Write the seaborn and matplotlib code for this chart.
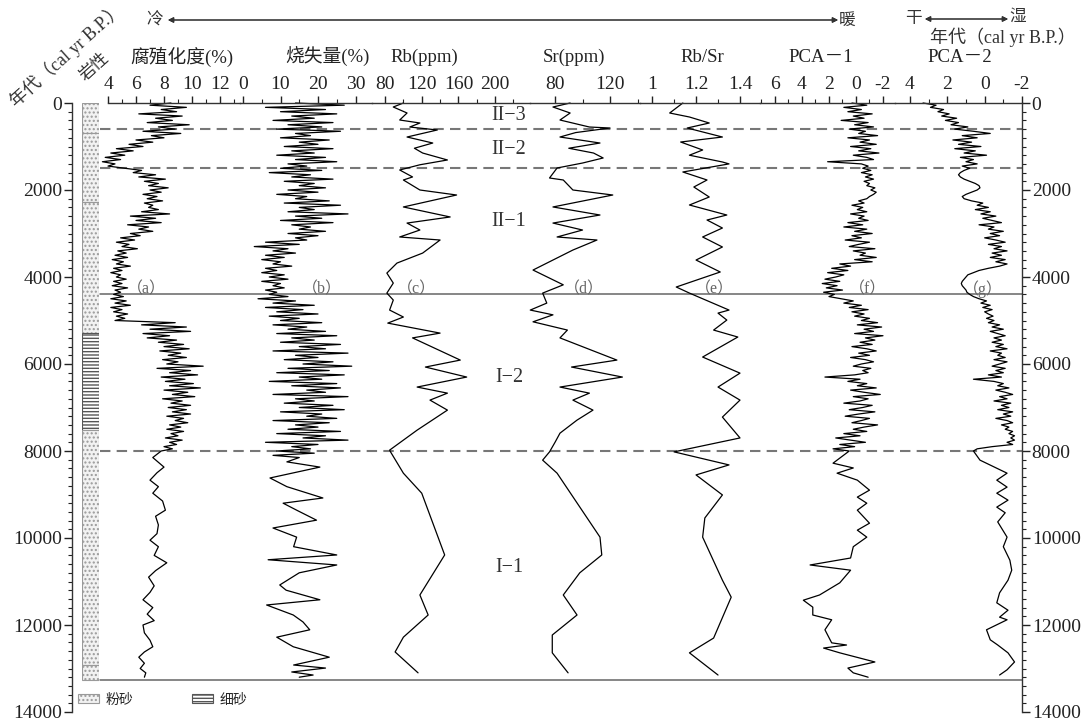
import numpy as np
import pandas as pd
import seaborn as sns
import matplotlib.pyplot as plt
from matplotlib.ticker import MultipleLocator
from matplotlib.patches import Patch

sns.set_theme(style='white')
plt.rcParams['font.family'] = ['Liberation Serif', 'Noto Sans CJK SC', 'DejaVu Sans']
plt.rcParams['axes.unicode_minus'] = False

W, H = 1085, 722
STEP = 50  # sample spacing (yr) of the dense upper sections

# ---- humification (%) ----
hum_dense = [
    8.5, 7.0, 9.6, 7.8, 8.9, 6.2, 9.3, 7.4, 8.6, 6.8,
    9.8, 7.6, 8.8, 6.5, 9.2, 7.1, 8.0, 6.0, 7.2, 5.5,
    6.5, 4.6, 5.8, 4.2, 5.2, 3.8, 4.9, 3.6, 4.5, 4.0,
    5.2, 6.4, 5.8, 7.4, 6.2, 8.1, 6.6, 7.6, 6.9, 8.3,
    7.0, 7.8, 6.5, 7.5, 6.8, 7.9, 6.6, 7.2, 6.9, 7.6,
    6.4, 8.4, 5.6, 7.4, 6.0, 7.8, 5.4, 6.9, 6.2, 7.2,
    5.6, 6.3, 4.9, 5.9, 4.6, 5.5, 5.0, 6.1, 4.7, 5.3,
    4.5, 5.4, 4.3, 5.1, 4.6, 5.6, 4.4, 5.0, 4.2, 4.9,
    4.6, 5.3, 4.4, 5.0, 4.3, 5.4, 4.5, 4.9, 4.4, 5.1,
    4.2, 5.3, 4.5, 5.6, 4.2, 5.0, 4.4, 5.4, 4.6, 5.2,
    4.5, 8.8, 6.4, 9.6, 7.0, 9.9, 6.5, 8.4, 6.8, 8.9,
    7.6, 9.4, 8.0, 9.8, 7.7, 9.2, 8.3, 9.6, 7.9, 9.0,
    8.2, 10.8, 7.5, 9.9, 8.4, 10.4, 7.8, 9.5, 8.1, 10.1,
    8.4, 10.6, 8.0, 9.7, 8.6, 10.2, 7.9, 9.3, 8.5, 9.9,
    8.3, 9.6, 8.6, 9.9, 8.2, 9.4, 8.8, 9.7, 8.4, 9.2,
    8.2, 9.4, 8.5, 9.0, 8.1, 9.3, 8.4, 8.9, 8.0, 8.6,
    7.8,
]
hum_tail = [(8150, 7.2), (8370, 8.0), (8500, 7.5), (8670, 7.0), (8820, 7.6),
            (8970, 7.2), (9150, 7.9), (9360, 8.1), (9500, 7.4), (9700, 7.6),
            (9900, 7.5), (10050, 7.0), (10200, 7.6), (10400, 7.3), (10570, 8.2),
            (10750, 7.4), (10900, 6.9), (11100, 7.3), (11250, 7.0), (11420, 6.5),
            (11600, 7.2), (11750, 6.8), (11900, 7.3), (12000, 6.5), (12180, 6.6),
            (12350, 7.0), (12500, 7.2), (12620, 6.6), (12740, 6.2), (12880, 6.6),
            (13000, 6.3), (13100, 6.7), (13200, 6.6)]

# ---- loss on ignition (%) ----
loi_dense = [
    14, 27, 6, 22, 10, 25, 13, 19, 8, 24,
    12, 21, 9, 26, 14, 18, 10, 23, 15, 20,
    11, 24, 13, 19, 9, 22, 14, 25, 12, 17,
    10, 21, 7, 18, 13, 24, 11, 19, 15, 22,
    12, 20, 9, 17, 14, 23, 11, 26, 15, 19,
    12, 28, 14, 21, 10, 24, 13, 18, 15, 22,
    12, 20, 14, 17, 6, 15, 3, 12, 8, 14,
    6, 11, 5, 10, 8, 13, 6, 9, 5, 11,
    7, 12, 5, 10, 8, 11, 6, 9, 7, 12,
    4, 14, 8, 19, 6, 16, 9, 20, 7, 15,
    10, 21, 8, 17, 12, 22, 9, 25, 13, 19,
    10, 26, 15, 22, 8, 28, 14, 20, 11, 24,
    16, 29, 12, 23, 9, 27, 15, 21, 7, 25,
    13, 26, 17, 22, 8, 28, 14, 19, 11, 24,
    15, 27, 10, 21, 17, 25, 8, 23, 14, 20,
    12, 26, 9, 22, 16, 28, 6, 20, 13, 18,
    9, 19, 8, 15,
]
loi_tail = [(8250, 11.7), (8370, 20.5), (8620, 7.2), (8820, 11.7), (9080, 21.3),
            (9200, 10.7), (9360, 14.3), (9590, 19.6), (9770, 8.0), (9980, 14.3),
            (10200, 13.5), (10390, 25.0), (10500, 6.7), (10620, 25.0), (10800, 15.0),
            (11080, 9.8), (11200, 11.5), (11420, 20.5), (11540, 6.3), (11770, 13.4),
            (11930, 16.0), (12110, 17.8), (12280, 9.0), (12500, 13.4), (12740, 23.0),
            (12920, 13.5), (12990, 22.0), (13080, 13.0), (13150, 18.7), (13200, 15.0)]

# ---- Rb (ppm) ----
rb_pts = [(0, 100), (92, 89), (230, 104), (391, 96), (460, 118), (552, 107),
          (620, 137), (782, 104), (920, 132), (1040, 112), (1150, 121), (1310, 148),
          (1420, 118), (1540, 96), (1700, 110), (1770, 100), (2000, 118), (2115, 158),
          (2390, 100), (2620, 151), (2760, 104), (2920, 118), (3080, 96), (3150, 140),
          (3450, 121), (3680, 93), (3910, 82), (4140, 89), (4370, 82), (4530, 89),
          (4760, 85), (4920, 100), (5060, 83), (5290, 140), (5400, 110), (5910, 162),
          (6070, 124), (6300, 169), (6530, 115), (6670, 148), (6830, 129), (7060, 148),
          (7520, 115), (7980, 85), (8020, 86), (8510, 100), (8970, 120), (10390, 145),
          (11310, 118), (11770, 127), (12280, 100), (12620, 91), (13100, 116)]

# ---- Sr (ppm) ----
sr_pts = [(0, 91), (92, 78.5), (230, 91), (391, 83.6), (552, 105), (575, 120),
          (680, 95), (782, 83.6), (920, 112.7), (1040, 90), (1150, 108), (1264, 115),
          (1380, 100), (1494, 81.5), (1724, 76), (1770, 86), (2000, 93), (2115, 122),
          (2390, 78.5), (2575, 112.7), (2760, 78.5), (2920, 100), (3080, 81.5),
          (3150, 110.5), (3380, 93), (3840, 64), (4180, 86), (4370, 71), (4600, 74),
          (4760, 62), (4870, 78.5), (5030, 64), (5220, 89), (5400, 83.6), (5910, 125),
          (6070, 92), (6300, 129), (6530, 83.6), (6670, 105), (6830, 93), (7060, 107.6),
          (7290, 96), (7590, 83.6), (7800, 80), (8020, 76), (8210, 71), (8510, 81.5),
          (9980, 112.7), (10390, 114), (10800, 98), (11310, 86), (11770, 96),
          (12230, 78), (12640, 78), (13100, 89.5)]

# ---- Rb/Sr ----
rbsr_pts = [(0, 1.14), (230, 1.08), (322, 1.17), (460, 1.26), (575, 1.16), (782, 1.32),
            (897, 1.13), (1080, 1.23), (1200, 1.17), (1356, 1.32), (1400, 1.35),
            (1586, 1.14), (1770, 1.25), (1931, 1.19), (2161, 1.26), (2345, 1.17),
            (2575, 1.34), (2690, 1.25), (2874, 1.32), (3080, 1.23), (3310, 1.32),
            (3610, 1.20), (3885, 1.31), (4230, 1.11), (4370, 1.17), (4760, 1.35),
            (4830, 1.30), (4990, 1.34), (5220, 1.28), (5380, 1.39), (5840, 1.23),
            (6210, 1.40), (6530, 1.30), (6830, 1.40), (7220, 1.32), (7700, 1.40),
            (8020, 1.10), (8320, 1.35), (8550, 1.20), (9010, 1.32), (9540, 1.24),
            (9980, 1.23), (10970, 1.32), (11360, 1.36), (12300, 1.28), (12640, 1.17),
            (13150, 1.30)]

# ---- PCA-1 ----
pca1_dense = [
    0.3, -0.8, 0.9, -0.4, 0.6, -1.2, 0.2, -0.6, 1.1, -0.9,
    0.1, -1.3, 0.5, -0.7, -0.2, -1.6, 0.6, -1.0, -0.3, -1.5,
    0.4, -1.1, -0.2, -1.7, 0.2, -0.8, -1.3, 2.1, -0.4, -0.9,
    -0.5, -1.1, -0.4, -1.2, -0.7, -1.3, -0.6, -1.0, -0.8, -1.4,
    -1.1, -1.5, -1.3, -1.0, -0.8, -0.2, -0.6, 0.3, -0.5, -0.1,
    -0.8, 0.4, -0.6, -0.2, -0.9, 0.6, -0.5, 0.9, -0.8, 0.1,
    -1.2, 0.3, -0.4, 0.8, -1.0, -0.2, 0.5, -1.4, 0.2, -0.7,
    -0.3, -1.5, 0.1, -1.2, 1.2, 0.4, 1.8, 0.6, 2.1, 0.9,
    1.5, 2.3, 1.2, 2.5, 1.4, 2.2, 1.0, 2.4, 1.6, 2.0,
    1.1, 0.2, 0.9, -0.4, 0.5, -0.9, 0.3, -0.6, 0.1, -1.0,
    -0.4, -1.6, -0.1, -1.9, -0.6, -1.3, 0.1, -2.0, -0.7, -1.4,
    -0.3, -1.2, 0.3, -0.8, -1.5, -0.2, -1.0, 0.4, -0.7, -1.3,
    -0.4, 0.2, -1.1, -0.5, -0.9, 0.1, 2.3, -0.3, 0.6, -0.8,
    -0.1, -1.5, 0.4, -0.6, -1.8, 0.2, -0.9, -0.3, 0.9, -1.2,
    -0.5, 0.5, -1.4, -0.2, 0.8, -1.0, -0.4, 0.3, -1.6, -0.6,
    0.2, -0.8, 0.9, -0.3, 1.5, 0.4, -0.7, 1.2, 0.1, 1.7,
    0.5,
]
pca1_tail = [(8280, 1.7), (8390, 0.2), (8510, 1.4), (8670, -0.1), (8900, -1.0),
             (9060, -0.1), (9200, -0.8), (9360, -0.1), (9660, -1.0), (9820, -0.1),
             (9980, -0.8), (10200, 0.2), (10460, 0.4), (10620, 3.4), (10740, 0.4),
             (11030, 1.2), (11310, 2.7), (11430, 3.9), (11590, 3.2), (11770, 3.2),
             (11880, 1.8), (12110, 2.3), (12410, 1.8), (12460, 0.7), (12530, 2.4),
             (12640, 1.2), (12850, -1.4), (12990, 0.6), (13100, 0.2), (13200, -0.9)]

# ---- PCA-2 ----
pca2_dense = [
    3.3, 2.6, 2.9, 2.2, 2.5, 1.9, 2.3, 1.5, 2.1, 1.4,
    1.8, 0.9, 1.6, 0.6, -0.3, 1.2, 0.4, 1.7, 0.7, 1.4,
    0.2, 1.6, 0.5, 1.1, -0.1, 1.3, 0.6, 1.0, 0.4, 1.2,
    0.8, 1.1, 1.3, 1.4, 1.3, 1.1, 0.8, 0.5, 0.3, 0.25,
    0.4, 0.7, 1.0, 1.2, 1.1, 0.7, 0.1, 0.4, -0.2, 0.5,
    -0.3, 0.2, -0.6, 0.1, -0.4, -0.9, 0.3, -0.5, -0.2, -1.0,
    -0.3, -0.8, 0.0, -0.6, -1.1, -0.2, -0.9, -0.5, -1.2, -0.4,
    -0.9, -0.3, -1.1, -0.6, -1.2, -0.8, -0.2, 0.3, 0.6, 0.9,
    1.0, 1.1, 1.2, 1.25, 1.2, 1.1, 1.0, 0.95, 0.8, 0.6,
    0.3, -0.1, 0.2, -0.3, 0.1, -0.4, 0.0, -0.2, -0.45, -0.1,
    -0.5, -0.2, -0.8, -0.4, -1.0, -0.3, -0.7, -1.1, -0.5, -0.9,
    -0.4, -1.0, -0.6, -1.2, -0.3, -0.9, -0.7, -1.1, -0.5, -1.2,
    -0.8, -0.4, -1.1, -0.6, -1.0, -0.2, -0.9, 0.6, -0.5, -1.0,
    -0.7, -1.3, -0.6, -1.1, -1.5, -0.8, -1.2, -0.5, -1.4, -0.9,
    -1.3, -0.7, -1.5, -1.0, -1.4, -0.6, -1.2, -1.5, -0.9, -1.3,
    -1.1, -1.5, -1.3, -1.6, -1.4, -1.6, -1.2, -1.5, -0.4, 0.4,
    0.6,
]
pca2_tail = [(8210, 0.25), (8510, -1.2), (8670, -0.65), (8830, -1.2), (8970, -0.65),
             (9130, -1.25), (9290, -0.65), (9420, -1.1), (9630, -0.7), (9980, -1.2),
             (10200, -1.0), (10510, -1.35), (10740, -1.45), (10970, -1.25),
             (11260, -0.8), (11490, -0.65), (11660, -1.25), (11820, -0.8),
             (11880, -1.2), (12110, -0.1), (12340, -0.3), (12460, -0.7),
             (12640, -1.25), (12850, -1.6), (13030, -1.2), (13150, -0.8)]

# ---- lithology column ----
layer_top = [0, 690, 2280, 5290, 7520, 12920]
layer_bot = [690, 2280, 5290, 7520, 12920, 13260]
layer_kind = ['粉砂', '粉砂', '粉砂', '细砂', '粉砂', '粉砂']

# zone boundaries
dashed_ages = [600, 1500, 8000]
solid_ages = [4390, 13260]

titles = ['腐殖化度(%)', '烧失量(%)', 'Rb(ppm)', 'Sr(ppm)', 'Rb/Sr', 'PCA－1', 'PCA－2']
ticks = [[4, 6, 8, 10, 12], [0, 10, 20, 30], [80, 120, 160, 200], [80, 120],
         [1, 1.2, 1.4], [6, 4, 2, 0, -2], [4, 2, 0, -2]]
tick_labels = [['4', '6', '8', '10', '12'], ['0', '10', '20', '30'],
               ['80', '120', '160', '200'], ['80', '120'], ['1', '1.2', '1.4'],
               ['6', '4', '2', '0', '-2'], ['4', '2', '0', '-2']]
zones = ['II−3', 'II−2', 'II−1', 'I−2', 'I−1']
panel_tags = ['（a）', '（b）', '（c）', '（d）', '（e）', '（f）', '（g）']


def dense_df(vals, tail):
    age = list(np.arange(len(vals)) * STEP) + [a for a, _ in tail]
    v = list(vals) + [b for _, b in tail]
    return pd.DataFrame({'age': age, 'value': v})


def pts_df(pts):
    return pd.DataFrame({'age': [a for a, _ in pts], 'value': [b for _, b in pts]})


series = [dense_df(hum_dense, hum_tail), dense_df(loi_dense, loi_tail),
          pts_df(rb_pts), pts_df(sr_pts), pts_df(rbsr_pts),
          dense_df(pca1_dense, pca1_tail), dense_df(pca2_dense, pca2_tail)]

# panel layout: (x0 px, x1 px, xlim, minor step, title x px, tag x px)
layout = [(108, 240, (4, 13.43), 1, 182, 146),
          (240, 372, (-0.8, 34.4), 5, 327, 322),
          (372, 530, (65.8, 238), 20, 424, 416),
          (530, 640, (61.8, 141.8), 20, 574, 584),
          (640, 760, (0.945, 1.491), 0.1, 702, 714),
          (760, 895, (7.11, -2.89), 1, 821, 868),
          (895, 1022, (4.80, -2.0), 1, 960, 983)]

fig = plt.figure(figsize=(W / 100, H / 100), dpi=100)
TOP, BOT = 103, 712


def rect(x0, x1):
    return [x0 / W, 1 - BOT / H, (x1 - x0) / W, (BOT - TOP) / H]


def fx(px):
    return px / W


def fy(py):
    return 1 - py / H


ax = fig.add_axes(rect(72, 1022))
ax.set_xlim(0, 1)
ax.set_ylim(14000, 0)
ax.set_facecolor('none')
for s in ['top', 'bottom']:
    ax.spines[s].set_visible(False)
for s in ['left', 'right']:
    ax.spines[s].set_color('#333')
    ax.spines[s].set_linewidth(1)
ax.set_xticks([])
ax.yaxis.set_major_locator(MultipleLocator(2000))
ax.yaxis.set_minor_locator(MultipleLocator(200))
ax.tick_params(axis='y', which='both', left=True, right=True, labelleft=True,
               labelright=True, direction='out', colors='#222', labelsize=14)
ax.tick_params(axis='y', which='major', length=6, width=1, pad=1)
ax.tick_params(axis='y', which='minor', length=3, width=0.8)

xmin_frac = (100 - 72) / (1022 - 72)
for a in dashed_ages:
    ax.axhline(a, xmin=xmin_frac, xmax=1, color='#777', lw=1.5, ls=(0, (5, 3)))
for a in solid_ages:
    ax.axhline(a, xmin=xmin_frac, xmax=1, color='#666', lw=1.1)

# lithology column
ax_l = fig.add_axes(rect(82, 99), sharey=ax)
ax_l.set_xlim(0, 1)
ax_l.set_facecolor('none')
styles = {'粉砂': dict(facecolor='#f2f2f2', edgecolor='#9a9a9a', hatch='....'),
          '细砂': dict(facecolor='white', edgecolor='#555', hatch='-----')}
for t, b, k in zip(layer_top, layer_bot, layer_kind):
    ax_l.barh((t + b) / 2, 1, height=b - t, left=0, lw=0.8, **styles[k])
for s in ax_l.spines.values():
    s.set_visible(False)
ax_l.tick_params(axis='both', which='both', left=False, right=False, bottom=False,
                 labelleft=False, labelbottom=False)

# data panels
for df, (x0, x1, xl, mstep, tx, gx), tk, tl, title, tag in zip(
        series, layout, ticks, tick_labels, titles, panel_tags):
    p = fig.add_axes(rect(x0, x1), sharey=ax)
    p.set_facecolor('none')
    sns.lineplot(data=df, x='value', y='age', sort=False, estimator=None,
                 color='black', lw=0.9, ax=p)
    p.lines[-1].set_clip_on(False)
    p.set_xlim(*xl)
    p.set_xlabel('')
    p.set_ylabel('')
    for s in ['left', 'right', 'bottom']:
        p.spines[s].set_visible(False)
    p.spines['top'].set_color('#333')
    p.spines['top'].set_linewidth(1)
    p.xaxis.tick_top()
    p.set_xticks(tk, labels=tl)
    p.xaxis.set_minor_locator(MultipleLocator(mstep))
    p.tick_params(axis='x', which='both', top=True, bottom=False, direction='out',
                  colors='#222', labelsize=14)
    p.tick_params(axis='x', which='major', length=5, width=1, pad=2)
    p.tick_params(axis='x', which='minor', length=3, width=0.8)
    p.tick_params(axis='y', which='both', left=False, right=False, labelleft=False,
                  labelright=False)
    fig.text(fx(tx), fy(57), title, ha='center', va='center', fontsize=13.5,
             color='#222')
    fig.text(fx(gx), fy(289), tag, ha='center', va='center', fontsize=11.5,
             color='#666')

ax.set_ylim(14000, 0)

# zone labels
for z, py in zip(zones, [116, 150, 221, 377, 567]):
    fig.text(fx(509), fy(py), z, ha='center', va='center', fontsize=14.5, color='#333')

# header
fig.text(fx(155), fy(21), '冷', ha='center', va='center', fontsize=12, color='#333')
fig.text(fx(847), fy(21), '暖', ha='center', va='center', fontsize=12, color='#333')
fig.text(fx(913), fy(19), '干', ha='center', va='center', fontsize=12, color='#333')
fig.text(fx(1018), fy(17), '湿', ha='center', va='center', fontsize=12, color='#333')
arrow = dict(arrowstyle='<|-|>', color='#333', lw=0.8, mutation_scale=8,
             shrinkA=0, shrinkB=0)
fig.add_artist(plt.annotate('', xy=(168, H - 20), xytext=(838, H - 20),
                            xycoords='figure pixels', textcoords='figure pixels',
                            arrowprops=arrow))
fig.add_artist(plt.annotate('', xy=(925, H - 19), xytext=(1008, H - 19),
                            xycoords='figure pixels', textcoords='figure pixels',
                            arrowprops=arrow))
fig.text(fx(1003), fy(37), '年代（cal yr B.P.）', ha='center', va='center',
         fontsize=13, color='#333')
fig.text(fx(67), fy(55), '年代（cal yr B.P.）', ha='center', va='center',
         fontsize=13, rotation=42, color='#333')
fig.text(fx(95), fy(67), '岩性', ha='center', va='center', fontsize=12,
         rotation=42, color='#333')

# legend
handles = [Patch(lw=0.8, **styles['粉砂']), Patch(lw=0.8, **styles['细砂'])]
fig.legend(handles, ['粉砂', '细砂'], loc='center left',
           bbox_to_anchor=(fx(78), fy(700)), ncol=2, frameon=False,
           fontsize=10, handlelength=1.5, handleheight=0.6, handletextpad=0.5,
           columnspacing=4.2, borderpad=0, borderaxespad=0)

fig.savefig('out.png', dpi=100)
